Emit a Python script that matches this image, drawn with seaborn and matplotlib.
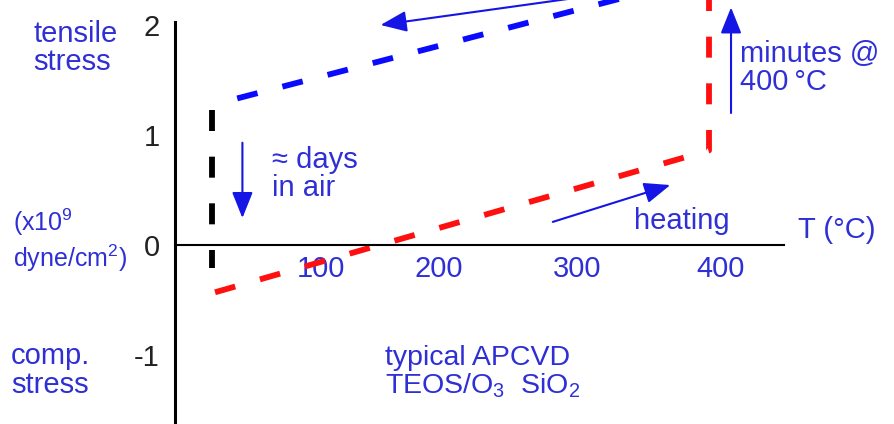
import matplotlib
matplotlib.use("Agg")
import matplotlib.pyplot as plt
import matplotlib.transforms as mtransforms
import seaborn as sns
import numpy as np

# Stress hysteresis of a TEOS/O3 SiO2 film (units: 1e9 dyne/cm^2)
heat_T = [30, 400, 400]          # heating ramp, then hold at 400 C
heat_stress = [-0.43, 0.86, 2.45]
cool_T = [400, 30]               # cooling back to room temperature
cool_stress = [2.45, 1.28]
relax_T = [28, 28]               # moisture uptake, days in air
relax_stress = [1.23, -0.21]

x_ticks = [100, 200, 300, 400]
x_tick_labels = ["100", "200", "300", "400"]
y_ticks = [-1, 0, 1, 2]
y_tick_labels = ["-1", "0", "1", "2"]

sns.set_theme(style="white")
plt.rcParams["font.family"] = ["Liberation Sans", "DejaVu Sans"]
plt.rcParams["mathtext.fontset"] = "custom"
plt.rcParams["mathtext.rm"] = "Liberation Sans"
plt.rcParams["mathtext.default"] = "regular"

TXT = "#2f2fd6"
FS = 21

fig = plt.figure(figsize=(8.94, 4.24), dpi=100)
ax = fig.add_axes([0, 0, 1, 1])
ax.set_facecolor("white")

# pixel layout: x_px = 175 + 1.335*T, y_px = 245 - 110*stress
ax.set_xlim(-175 / 1.335, (894 - 175) / 1.335)
ax.set_ylim(-(424 - 245) / 110, 245 / 110)

dash = (3.6, 4.4)
for xs, ys, col in [(heat_T, heat_stress, "#ff1010"),
                    (cool_T, cool_stress, "#0a0aff"),
                    (relax_T, relax_stress, "black")]:
    sns.lineplot(x=xs, y=ys, sort=False, estimator=None, color=col,
                 lw=4.2, ax=ax)
    ln = ax.lines[-1]
    ln.set_dashes(dash)
    ln.set_dash_capstyle("butt")
    ln.set_clip_on(False)

# crossed axes through the origin
for s in ["top", "right"]:
    ax.spines[s].set_visible(False)
ax.spines["left"].set_position(("data", 0))
ax.spines["bottom"].set_position(("data", 0))
ax.spines["left"].set_bounds(-1.7, 2.03)
ax.spines["bottom"].set_bounds(0, 456)
ax.spines["left"].set_linewidth(2.2)
ax.spines["bottom"].set_linewidth(1.5)
ax.spines["left"].set_color("black")
ax.spines["bottom"].set_color("black")

ax.set_xticks(x_ticks)
ax.set_xticklabels(x_tick_labels)
ax.set_yticks(y_ticks)
ax.set_yticklabels(y_tick_labels)
ax.tick_params(axis="x", length=0, pad=7, labelsize=FS, labelcolor=TXT)
ax.tick_params(axis="y", length=0, pad=11, labelsize=FS, labelcolor="#222222")
ax.set_xlabel("")
ax.set_ylabel("")

# nudge the temperature labels sideways so they clear the dashed ramp
for lab, dx in zip(ax.get_xticklabels(), [12, -3, 2, 12]):
    lab.set_transform(lab.get_transform()
                      + mtransforms.ScaledTranslation(dx / 100, 0, fig.dpi_scale_trans))

# annotations
ax.text(-106, 1.79, "tensile\nstress", color=TXT, fontsize=FS,
        ha="left", va="center", linespacing=1.02)
ax.text(-121, 0.04, "(x10$^9$\ndyne/cm$^2$)", color=TXT, fontsize=18,
        ha="left", va="center", linespacing=1.2)
ax.text(-123, -1.14, "comp.\nstress", color=TXT, fontsize=FS,
        ha="left", va="center", linespacing=1.02)
ax.text(423, 1.61, "minutes @\n400\u2009\u00b0C", color=TXT, fontsize=FS,
        ha="left", va="center", linespacing=1.02)
ax.text(73, 0.645, "\u2248 days\nin air", color=TXT, fontsize=FS,
        ha="left", va="center", linespacing=1.02)
ax.text(380, 0.22, "heating", color=TXT, fontsize=FS, ha="center", va="center")
ax.text(496, 0.14, "T (\u00b0C)", color=TXT, fontsize=FS, ha="center", va="center")
ax.text(157, -1.16, "typical APCVD\nTEOS/O$_3$  SiO$_2$", color=TXT, fontsize=20.5,
        ha="left", va="center", linespacing=1.02)

arrow = dict(arrowstyle="-|>,head_length=0.8,head_width=0.32", color="#1515e6",
             lw=1.5, mutation_scale=20, shrinkA=0, shrinkB=0)
ax.annotate("", xy=(154, 2.0), xytext=(320, 2.28), arrowprops=arrow,
            annotation_clip=False)
ax.annotate("", xy=(416.5, 2.16), xytext=(416.5, 1.2), arrowprops=arrow)
ax.annotate("", xy=(50.5, 0.245), xytext=(50.5, 0.93), arrowprops=arrow)
ax.annotate("", xy=(371, 0.545), xytext=(283, 0.21), arrowprops=arrow)

fig.savefig("out.png", dpi=100, facecolor="white")
